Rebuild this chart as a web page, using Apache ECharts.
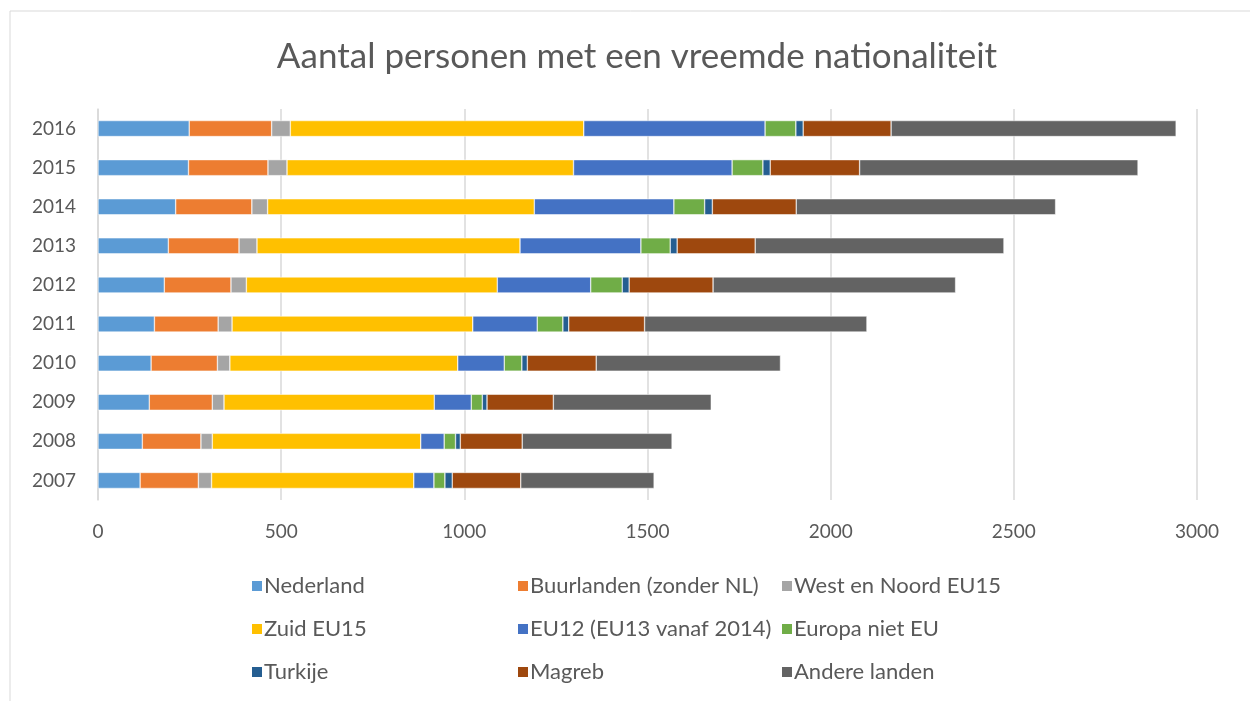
<!DOCTYPE html>
<html>
<head>
<meta charset="utf-8">
<script src="https://cdn.jsdelivr.net/npm/echarts@6/dist/echarts.min.js"></script>
<style>
    html, body { margin: 0; padding: 0; background: #fff; }
    #chart { width: 1250px; height: 701px; }
</style>
</head>
<body>
<div id="chart"></div>
<script>
    // jaren, van onder naar boven
    const years = ['2007', '2008', '2009', '2010', '2011', '2012', '2013', '2014', '2015', '2016'];

    const nederland   = [115, 121, 140, 145, 154, 181, 192, 212, 247, 249];
    const buurlanden  = [159, 160, 172, 181, 174, 182, 193, 208, 217, 225];
    const westNoord   = [36, 31, 32, 34, 38, 42, 49, 43, 52, 51];
    const zuidEU15    = [552, 569, 574, 622, 657, 685, 718, 728, 782, 801];
    const eu12        = [55, 64, 101, 127, 176, 255, 330, 381, 433, 495];
    const europaNietEU = [30, 31, 30, 48, 70, 86, 80, 84, 84, 84];
    const turkije     = [20, 13, 13, 15, 16, 19, 19, 21, 20, 20];
    const magreb      = [187, 169, 181, 188, 207, 229, 213, 229, 244, 240];
    const andere      = [364, 409, 431, 503, 607, 662, 679, 708, 760, 778];

    const xTicks = [0, 500, 1000, 1500, 2000, 2500, 3000];

    const seriesDefs = [
        { name: 'Nederland', data: nederland, color: '#5b9bd5' },
        { name: 'Buurlanden (zonder NL)', data: buurlanden, color: '#ed7d31' },
        { name: 'West en Noord EU15', data: westNoord, color: '#a5a5a5' },
        { name: 'Zuid EU15', data: zuidEU15, color: '#ffc000' },
        { name: 'EU12 (EU13 vanaf 2014)', data: eu12, color: '#4472c4' },
        { name: 'Europa niet EU', data: europaNietEU, color: '#70ad47' },
        { name: 'Turkije', data: turkije, color: '#255e91' },
        { name: 'Magreb', data: magreb, color: '#9e480e' },
        { name: 'Andere landen', data: andere, color: '#636363' }
    ];

    const font = 'Lato, "Open Sans", sans-serif';
    let chart = echarts.init(document.getElementById('chart'));

    /**legenda in drie kolommen*/
    function legendColumn(left, names) {
        return {
            orient: 'vertical',
            left: left,
            top: 570,
            itemGap: 21,
            itemWidth: 12,
            itemHeight: 12,
            icon: 'rect',
            data: names,
            textStyle: { color: '#595959', fontSize: 22, fontFamily: font, padding: [0, 0, 0, -4] }
        };
    }

    let option = {
        animation: false,
        color: seriesDefs.map(s => s.color),
        title: {
            text: 'Aantal personen met een vreemde nationaliteit',
            left: 632,
            textAlign: 'center',
            top: 34,
            textStyle: { color: '#595959', fontSize: 35, fontWeight: 'normal', fontFamily: font }
        },
        legend: [
            legendColumn(245, ['Nederland', 'Zuid EU15', 'Turkije']),
            legendColumn(511, ['Buurlanden (zonder NL)', 'EU12 (EU13 vanaf 2014)', 'Magreb']),
            legendColumn(775, ['West en Noord EU15', 'Europa niet EU', 'Andere landen'])
        ],
        graphic: [{
            type: 'rect',
            shape: { x: 10, y: 11, width: 1260, height: 720 },
            style: { fill: 'none', stroke: '#d9d9d9', lineWidth: 1 },
            silent: true
        }],
        grid: { left: 98, right: 53, top: 109, bottom: 201, containLabel: false },
        xAxis: {
            type: 'value',
            min: xTicks[0],
            max: xTicks[xTicks.length - 1],
            interval: 500,
            axisLine: { show: false },
            axisTick: { show: false },
            splitLine: { lineStyle: { color: '#d9d9d9', width: 1.5 } },
            axisLabel: {
                color: '#595959', fontSize: 19, fontFamily: font, margin: 22,
                formatter: v => String(v)
            }
        },
        yAxis: {
            type: 'category',
            data: years,
            axisLine: { show: true, lineStyle: { color: '#d9d9d9', width: 1.5 } },
            axisTick: { show: false },
            axisLabel: { color: '#595959', fontSize: 19, fontFamily: font, margin: 22 }
        },
        series: seriesDefs.map(s => ({
            name: s.name,
            type: 'bar',
            stack: 'totaal',
            barWidth: 16,
            data: s.data,
            itemStyle: { color: s.color, borderColor: '#ffffff', borderWidth: 0.5 }
        }))
    };

    chart.setOption(option);
</script>
</body>
</html>
